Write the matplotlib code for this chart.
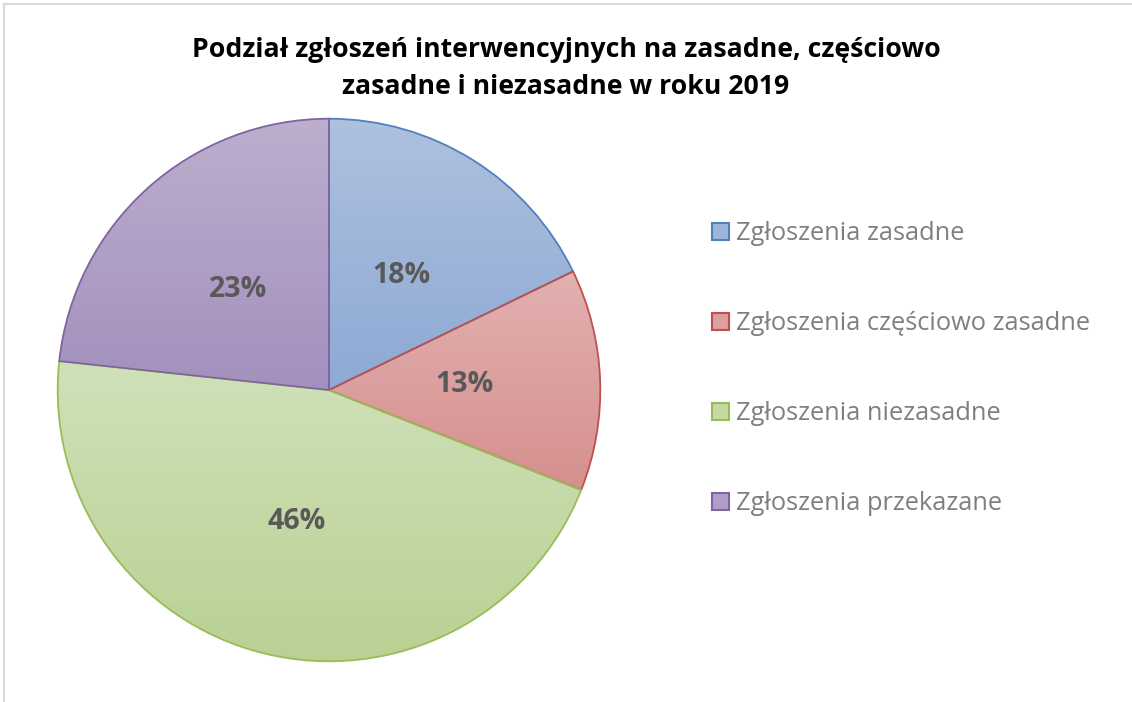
import numpy as np
import matplotlib
matplotlib.use("Agg")
import matplotlib.pyplot as plt
from matplotlib.lines import Line2D
from matplotlib.colors import LinearSegmentedColormap
from matplotlib.patches import Patch, Wedge

plt.rcParams['font.family'] = ['Open Sans', 'DejaVu Sans']

categories = ["Zgłoszenia zasadne", "Zgłoszenia częściowo zasadne",
              "Zgłoszenia niezasadne", "Zgłoszenia przekazane"]
shares = [17.8, 13.2, 45.7, 23.3]
title = "Podział zgłoszeń interwencyjnych na zasadne, częściowo\nzasadne i niezasadne w roku 2019"

edge_colors = ["#4F81BD", "#C0504D", "#9BBB59", "#8064A2"]
top_colors = ["#AEC1DE", "#E2B1B0", "#D0E1B9", "#BDAECD"]
bottom_colors = ["#8DA9D5", "#D58F8E", "#B9D193", "#A390BE"]
mid_colors = ["#9DB5DA", "#DBA09F", "#C4D9A6", "#AF9FC5"]

W, H = 1132, 702
fig = plt.figure(figsize=(W / 100, H / 100), dpi=100)

cx, cy, R = 329, 702 - 390, 274
ax = fig.add_axes([(cx - R) / W, (cy - R) / H, 2 * R / W, 2 * R / H])

wedges, texts, autotexts = ax.pie(
    shares, startangle=90, counterclock=False, radius=1,
    colors=mid_colors, autopct='%.0f%%', pctdistance=0.5,
    wedgeprops=dict(linewidth=1.3),
    textprops=dict(fontsize=20.5, fontweight='bold', color='#595959'))
for w, ec in zip(wedges, edge_colors):
    w.set_edgecolor(ec)
    w.set_zorder(3)
    w.set_facecolor('none')
for t in autotexts:
    t.set_zorder(5)

# vertical gradient fills clipped to each wedge
for w, tc, bc in zip(wedges, top_colors, bottom_colors):
    th = np.radians(np.linspace(w.theta1, w.theta2, 200))
    ys = np.concatenate([np.sin(th), [0.0]])
    xs = np.concatenate([np.cos(th), [0.0]])
    cmap = LinearSegmentedColormap.from_list("g", [bc, tc])
    grad = np.linspace(0, 1, 256).reshape(-1, 1)
    im = ax.imshow(grad, cmap=cmap, origin='lower', aspect='auto',
                   extent=[xs.min(), xs.max(), ys.min(), ys.max()], zorder=2,
                   interpolation='bilinear')
    clip = Wedge((0, 0), 1, w.theta1, w.theta2, transform=ax.transData)
    im.set_clip_path(clip)

handles = [Patch(facecolor=mc, edgecolor=ec, linewidth=1.5) for mc, ec in zip(mid_colors, edge_colors)]

ax.set_xlim(-1.01, 1.01)
ax.set_ylim(-1.01, 1.01)
ax.set_aspect('equal')
ax.axis('off')

leg = fig.legend(handles, categories, loc='upper left',
                 bbox_to_anchor=(712 / W, 1 - 221 / H), frameon=False,
                 fontsize=18.3, labelcolor='#7F7F7F', labelspacing=2.56,
                 handlelength=0.66, handleheight=0.66, handletextpad=0.3,
                 borderpad=0, borderaxespad=0)

fig.text(566 / W, 1 - 68.5 / H, title, ha='center', va='center', fontsize=19.2,
         fontweight='bold', color='black', linespacing=1.56)

fig.add_artist(Line2D([4 / W, 4 / W], [0, 1 - 4 / H], color='#D9D9D9', lw=1.5, transform=fig.transFigure))
fig.add_artist(Line2D([4 / W, 1], [1 - 4 / H, 1 - 4 / H], color='#D9D9D9', lw=1.5, transform=fig.transFigure))

fig.savefig("out.png", dpi=100, facecolor='white')
